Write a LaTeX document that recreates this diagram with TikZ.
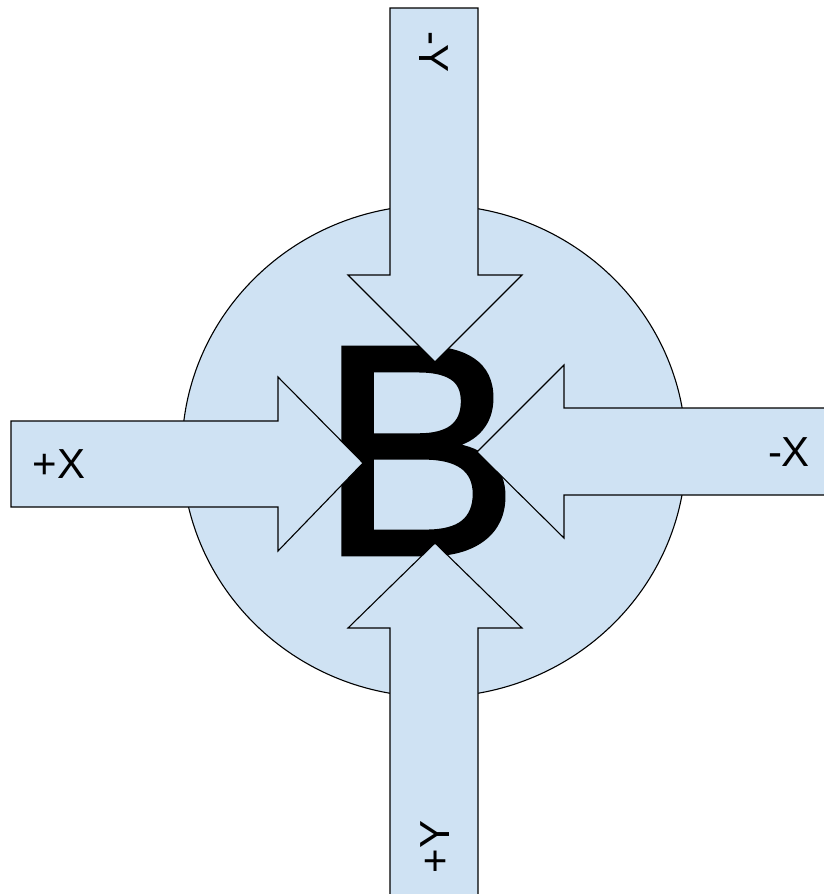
\documentclass[tikz,border=0pt]{standalone}
\usepackage{fontspec}
\setmainfont{Liberation Sans}
\newfontfamily\heavyfont{Liberation Sans}[FakeBold=1.5]
\usepackage{xcolor}
\usetikzlibrary{arrows.meta,calc}
\definecolor{paleblue}{HTML}{CFE2F3}
\tikzset{blockarrow/.style={draw=black, fill=paleblue, line width=1.1pt, line join=miter},
         dirlabel/.style={font=\fontsize{42}{42}\selectfont, inner sep=0pt}}

\begin{document}
\begin{tikzpicture}[x=1pt,y=-1pt]
\useasboundingbox (0,0) rectangle (823,894);
\draw[blockarrow] (434,451) ellipse [x radius=252, y radius=246];
\node (letter) at (419,451) {\heavyfont\fontsize{300}{300}\selectfont B};
% top, pointing down
\draw[blockarrow] (390,8) -- (478,8) -- (478,275) -- (522,275) -- (435,362) -- (348,275) -- (390,275) -- cycle;
% bottom, pointing up
\draw[blockarrow] (390,900) -- (390,628) -- (348,628) -- (435,543) -- (522,628) -- (478,628) -- (478,900);
% left, pointing right
\draw[blockarrow] (11,421) -- (278,421) -- (278,377) -- (363,463) -- (278,551) -- (278,507) -- (11,507) -- cycle;
% right, pointing left
\draw[blockarrow] (830,408) -- (564,408) -- (564,365) -- (477,452) -- (564,538) -- (564,495) -- (830,495);
\node[dirlabel, rotate=-90] (negy) at (434,52) {-Y};
\node[dirlabel, rotate=90] (posy) at (435,847) {+Y};
\node[dirlabel] (posx) at (59,464) {+X};
\node[dirlabel] (negx) at (789,452) {-X};
\end{tikzpicture}
\end{document}
